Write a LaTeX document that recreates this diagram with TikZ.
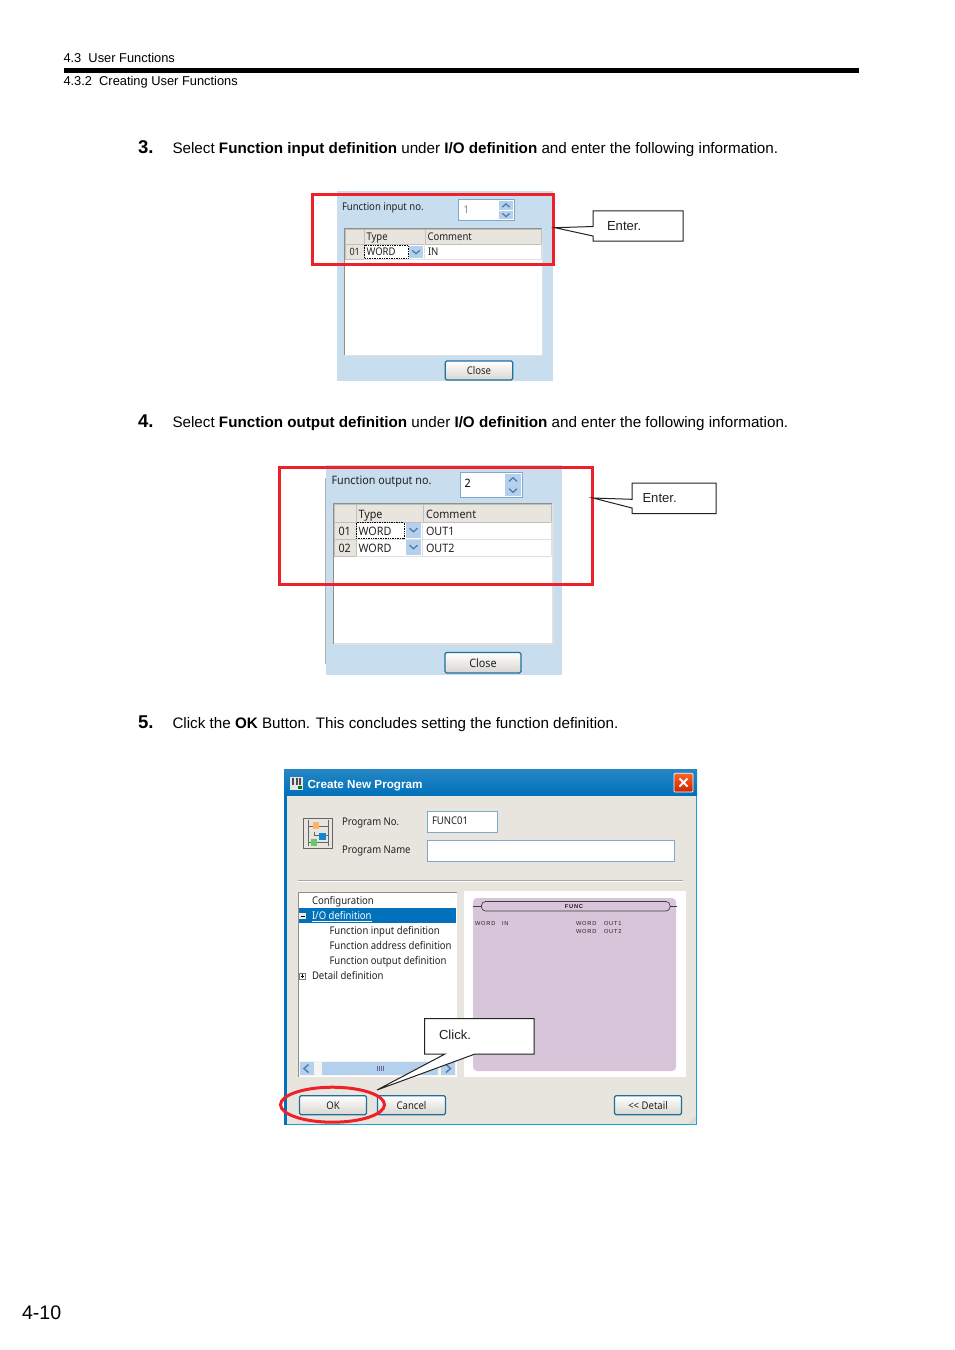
\documentclass[tikz,border=0pt]{standalone}
\usepackage{fontspec}
\setmainfont{Liberation Sans}
\newfontfamily\uifont[FakeStretch=0.9]{Noto Sans}
\newfontfamily\uifontb[FakeStretch=0.93]{Noto Sans}
\newfontfamily\tinyfont[LetterSpace=14]{Liberation Sans}
\definecolor{panel}{HTML}{C8DEEF}
\definecolor{redbox}{HTML}{ED2129}
\definecolor{face}{HTML}{E8E5DE}
\definecolor{boxedge}{HTML}{7FA9CB}
\definecolor{btnblue}{HTML}{B5D0EC}
\definecolor{chev}{HTML}{4C7FB0}
\definecolor{btnedge}{HTML}{1F6E9C}
\definecolor{winblue}{HTML}{0071BA}
\definecolor{purple}{HTML}{D8C5DA}
\definecolor{gridedge}{HTML}{8F8F88}
\definecolor{ink}{HTML}{222222}
\tikzset{
  x=1pt,y=-1pt,
  lab/.style={anchor=base west,inner sep=0pt,outer sep=0pt,text=ink},
  hdr/.style={lab,text=black,font=\fontsize{12.85}{14}\selectfont},
  body/.style={lab,text=black,font=\fontsize{15.2}{17}\selectfont},
  num/.style={lab,text=black,font=\bfseries\fontsize{18.5}{20}\selectfont},
  ui/.style={lab,font=\uifont\fontsize{10.6}{12}\selectfont},
  uib/.style={lab,font=\uifontb\fontsize{11.6}{13}\selectfont},
  callouttext/.style={lab,text=ink,font=\fontsize{13.1}{15}\selectfont},
  callout/.style={draw=ink,fill=white,line width=1pt,line join=miter},
  redrect/.style={draw=redbox,line width=3pt},
  button/.style={draw=btnedge,line width=1.2pt,rounded corners=1.5pt,top color=white,bottom color=face!85!gray},
  headcell/.style={fill=face,draw=white!75!black,line width=.6pt},
  inputbox/.style={draw=boxedge,line width=1pt,fill=white},
  tiny/.style={lab,text=ink,font=\tinyfont\fontsize{5.7}{7}\selectfont},
}
\newcommand{\chevdown}[3]{\draw[chev,line width=1.3pt] (#1-#3,#2-#3*.45) -- (#1,#2+#3*.45) -- (#1+#3,#2-#3*.45);}
\newcommand{\chevup}[3]{\draw[chev,line width=1.3pt] (#1-#3,#2+#3*.45) -- (#1,#2-#3*.45) -- (#1+#3,#2+#3*.45);}
\begin{document}
\begin{tikzpicture}
\useasboundingbox (0,0) rectangle (954,1350);
\fill[white] (0,0) rectangle (954,1350);
% ---- page header
\node[hdr] (h1) at (63.5,62) {4.3\ \ User Functions};
\fill[black] (64,68.3) rectangle (859,73);
\node[hdr] (h2) at (63.5,85) {4.3.2\ \ Creating User Functions};
% ---- step 3
\node[num] (n3) at (138,153) {3.};
\node[body] (s3) at (172.5,153) {Select \textbf{Function input definition} under \textbf{I/O definition} and enter the following information.};
% dialog 1
\fill[panel] (337,191) rectangle (553,381);
\node[ui] (d1a) at (342,210) {Function input no.};
\draw[inputbox] (458.5,199.5) rectangle (514.5,220);
\node[ui,text=gray] (d1b) at (463.5,213) {1};
\fill[btnblue] (499,201) rectangle (513,210);
\fill[btnblue] (499,210.6) rectangle (513,219);
\chevup{506}{205.5}{3.6}
\chevdown{506}{215}{3.6}
\fill[white] (344,228) rectangle (542,355);
\draw[white!88!black,line width=1pt] (344,355) -- (542,355) -- (542,228);
\draw[gridedge,line width=1.3pt] (344.5,355) -- (344.5,228.5) -- (542,228.5);
\fill[headcell] (345,229.5) rectangle (364,244);
\fill[headcell] (364,229.5) rectangle (425,244);
\fill[headcell] (425,229.5) rectangle (541,244);
\node[ui] (d1c) at (366.5,240.3) {Type};
\node[ui] (d1d) at (427.5,240.3) {Comment};
\fill[headcell] (345,244) rectangle (364,259);
\draw[white!88!black,line width=.7pt] (364,259) -- (541,259) -- (541,244);
\draw[white!88!black,line width=.7pt] (424.5,244) -- (424.5,259);
\node[ui,font=\uifont\fontsize{10}{12}\selectfont] (d1e) at (349.5,255.3) {01};
\node[ui] (d1f) at (366.5,255.3) {WORD};
\draw[black,line width=.7pt,densely dotted] (364.5,245) rectangle (408,258);
\fill[btnblue] (409,245.5) rectangle (423,258);
\chevdown{416}{252}{3.8}
\node[ui] (d1g) at (428,255.3) {IN};
\node[ui,anchor=center,button,minimum width=67.5pt,minimum height=19pt] (d1h) at (479,370.5) {Close};
\draw[redrect] (312.5,194.5) rectangle (553.5,264.5);
\draw[callout] (555,227.7) -- (593,226.5) -- (593,210.8) -- (683,210.8) -- (683,241) -- (593,241) -- (593,236) -- cycle;
\node[callouttext] (c1) at (607,230) {Enter.};
% ---- step 4
\node[num] (n4) at (138,427) {4.};
\node[body] (s4) at (172.5,427) {Select \textbf{Function output definition} under \textbf{I/O definition} and enter the following information.};
% dialog 2
\fill[panel] (326,465) rectangle (562,675);
\draw[gray!60,line width=.7pt] (325.7,478) -- (325.7,664);
\node[uib] (d2a) at (331.5,484) {Function output no.};
\draw[inputbox] (460,472.5) rectangle (522.5,497);
\node[uib,text=black] (d2b) at (464.5,487) {2};
\fill[btnblue] (505,474) rectangle (521,484.5);
\fill[btnblue] (505,485.2) rectangle (521,495.5);
\chevup{513}{479.5}{4}
\chevdown{513}{490.5}{4}
\fill[white] (333,503) rectangle (553,644);
\draw[white!88!black,line width=1.3pt] (333,644) -- (553,644) -- (553,503);
\draw[gridedge,line width=1.3pt] (333.5,644) -- (333.5,503.5) -- (552,503.5);
\fill[headcell] (334,504.5) rectangle (356,522);
\fill[headcell] (356,504.5) rectangle (423,522);
\fill[headcell] (423,504.5) rectangle (551,522);
\node[uib] (d2c) at (358.5,518) {Type};
\node[uib] (d2d) at (426,518) {Comment};
\fill[headcell] (334,522) rectangle (356,539);
\fill[headcell] (334,539) rectangle (356,556);
\draw[white!88!black,line width=.7pt] (356,539) -- (551,539);
\draw[white!88!black,line width=.7pt] (356,556) -- (551,556);
\draw[white!88!black,line width=.7pt] (551,522) -- (551,556);
\draw[white!88!black,line width=.7pt] (422.5,522) -- (422.5,556);
\node[uib] (d2e) at (338.5,535) {01};
\node[uib] (d2f) at (358.5,535) {WORD};
\node[uib] (d2g) at (426,535) {OUT1};
\node[uib] (d2h) at (338.5,552) {02};
\node[uib] (d2i) at (358.5,552) {WORD};
\node[uib] (d2j) at (426,552) {OUT2};
\draw[black,line width=.7pt,densely dotted] (356,522.5) rectangle (404,538);
\fill[btnblue] (406,523) rectangle (421,537.5);
\fill[btnblue] (406,540) rectangle (421,554.5);
\chevdown{413.5}{530}{4}
\chevdown{413.5}{547}{4}
\node[uib,anchor=center,button,minimum width=76pt,minimum height=20.5pt] (d2k) at (483,662.7) {Close};
\draw[redrect] (279.5,467.5) rectangle (592.5,584.5);
\draw[callout] (593,498) -- (632,499.3) -- (632,483) -- (716,483) -- (716,513.7) -- (632,513.7) -- (632,508) -- cycle;
\node[callouttext] (c2) at (642.5,502) {Enter.};
% ---- step 5
\node[num] (n5) at (138,728) {5.};
\node[body] (s5) at (172.5,728) {Click the \textbf{OK} Button. This concludes setting the function definition.};
% dialog 3
\fill[winblue!70!cyan!90!white] (284,769) rectangle (697,1125);
\fill[winblue] (284,769) rectangle (287,1125);
\fill[face] (287,796) rectangle (695.5,1123.7);
\shade[top color=winblue!85!white,bottom color=winblue] (284,769) rectangle (697,795.5);
\node[lab,text=white,font=\bfseries\fontsize{11.7}{13}\selectfont] (title) at (307.5,788) {Create New Program};
\fill[white!80!gray] (290,777) rectangle (303,790);
\fill[black!70] (292,778) rectangle (294,785);
\fill[black!70] (295.5,778) rectangle (297.5,785);
\fill[black!70] (299,778) rectangle (301,785);
\fill[green!50!black] (298,786) rectangle (302,789);
\draw[white,line width=.7pt,rounded corners=1pt,top color=orange!55!red!85!white,bottom color=orange!35!red!80!black] (674,773.3) rectangle (693,792);
\draw[white,line width=1.8pt] (679.5,778.5) -- (687.5,786.5) (687.5,778.5) -- (679.5,786.5);
% program icon
\draw[gray!80!black,line width=.9pt,fill=face] (303.5,818.5) rectangle (332.5,848);
\draw[gray!80!black,line width=.7pt] (308,820) -- (308,846) (328,820) -- (328,846) (308,826) -- (328,826) -- (328,835) -- (314,835) -- (314,832) (308,842) -- (328,842);
\fill[orange!60] (313,822) rectangle (319,829);
\fill[cyan!70!blue] (319,833) rectangle (326,840);
\fill[green!45!gray!80!white] (311,839) rectangle (317,846);
\node[ui] (p1) at (342,825) {Program No.};
\node[ui] (p2) at (342,853) {Program Name};
\draw[inputbox] (427.5,811.5) rectangle (497.5,832.5);
\node[ui] (p3) at (432,824.5) {FUNC01};
\draw[inputbox] (427.5,840.5) rectangle (674.5,861.5);
\draw[gray!70,line width=.8pt] (298,880.7) -- (683,880.7);
\draw[white,line width=.6pt] (298,881.5) -- (683,881.5);
% tree
\fill[white] (298,892) rectangle (457,1077);
\draw[gridedge,line width=.9pt] (298.5,1077) -- (298.5,892.5) -- (457,892.5);
\fill[winblue] (299,908) rectangle (456,923);
\node[ui] (t1) at (312,904) {Configuration};
\node[ui,text=white] (t2) at (312,919.5) {\underline{I/O definition}};
\node[ui] (t3) at (329.5,934) {Function input definition};
\node[ui] (t4) at (329.5,949) {Function address definition};
\node[ui] (t5) at (329.5,964) {Function output definition};
\node[ui] (t6) at (312,979) {Detail definition};
\fill[white!85!gray] (299,912.5) rectangle (305.5,919);
\draw[black,line width=.8pt] (300.5,916) -- (304.5,916);
\draw[gray,line width=.6pt,fill=white] (299.5,973) rectangle (305.5,979);
\draw[black,line width=.6pt] (300.7,976) -- (304.3,976) (302.5,974.2) -- (302.5,977.8);
% scrollbar
\fill[face!40!white] (299,1061) rectangle (456,1076);
\fill[btnblue] (299.5,1062) rectangle (313.5,1075);
\fill[btnblue] (322,1062) rectangle (438,1075);
\fill[btnblue] (440.5,1062) rectangle (455,1075);
\draw[chev,line width=1.5pt] (308.5,1064.5) -- (304,1068.5) -- (308.5,1072.5);
\draw[chev,line width=1.5pt] (446,1064.5) -- (450.5,1068.5) -- (446,1072.5);
\draw[gray!80!blue,line width=.5pt] (377.5,1066) -- (377.5,1071) (379.5,1066) -- (379.5,1071) (381.5,1066) -- (381.5,1071) (383.5,1066) -- (383.5,1071);
% preview
\fill[white] (464,891) rectangle (686,1077);
\fill[purple,rounded corners=4pt] (473,898) rectangle (676,1071);
\draw[black!75,line width=.7pt,rounded corners=4pt] (481.5,901.5) rectangle (670,911);
\draw[black!75,line width=.7pt] (473,906.3) -- (481.5,906.3) (670,906.3) -- (677,906.3);
\node[tiny,anchor=center,font=\tinyfont\bfseries\fontsize{5.7}{7}\selectfont] (f0) at (574,906.5) {FUNC};
\node[tiny] (f1) at (475,925) {WORD};
\node[tiny] (f2) at (502,925) {IN};
\node[tiny] (f3) at (576,925) {WORD};
\node[tiny] (f4) at (604,925) {OUT1};
\node[tiny] (f5) at (576,933) {WORD};
\node[tiny] (f6) at (604,933) {OUT2};
% buttons
\node[ui,anchor=center,button,minimum width=67pt,minimum height=19pt] (ok) at (333,1105.3) {OK};
\node[ui,anchor=center,button,minimum width=68pt,minimum height=19pt] (cancel) at (411.5,1105.3) {Cancel};
\node[ui,anchor=center,button,minimum width=67pt,minimum height=19pt] (detail) at (648,1105.3) {<{}< Detail};
\draw[white!65!gray,line width=.8pt] (689,1124) -- (696,1117) (692,1124) -- (696,1120);
% click callout and ring
\draw[callout] (424.5,1018.5) -- (534,1018.5) -- (534,1054) -- (475,1054) -- (377,1090) -- (445,1054) -- (424.5,1054) -- cycle;
\node[callouttext] (c3) at (439,1039) {Click.};
\draw[redbox,line width=3pt] (332.5,1104.7) ellipse [x radius=52,y radius=17.5];
% page number
\node[lab,text=black,font=\fontsize{19.6}{22}\selectfont] (pg) at (22,1319) {4-10};
\end{tikzpicture}
\end{document}
